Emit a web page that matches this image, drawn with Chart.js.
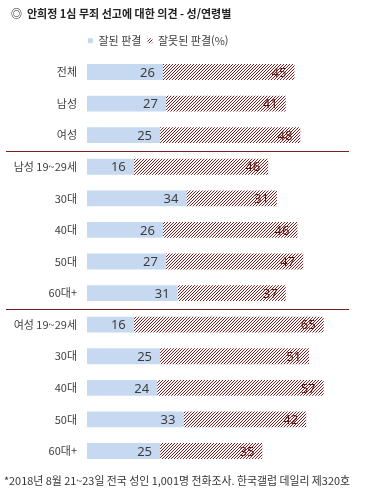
<!DOCTYPE html>
<html lang="ko">
<head>
<meta charset="utf-8">
<title>안희정 1심 무죄 선고에 대한 의견 - 성/연령별</title>
<script src="https://cdn.jsdelivr.net/npm/chart.js@4.4.1/dist/chart.umd.min.js"></script>
<style>
  html, body { margin: 0; padding: 0; background: #fff; }
  #chart { display: block; }
</style>
</head>
<body>
<canvas id="chart" width="370" height="494"></canvas>
<script>
// ---------- DATA ----------
const categories = ["전체", "남성", "여성", "남성 19~29세", "30대", "40대", "50대", "60대+", "여성 19~29세", "30대", "40대", "50대", "60대+"];
const goodVerdict = [26, 27, 25, 16, 34, 26, 27, 31, 16, 25, 24, 33, 25];
const badVerdict  = [45, 41, 48, 46, 31, 46, 47, 37, 65, 51, 57, 42, 35];
const seriesNames = ["잘된 판결", "잘못된 판결(%)"];
const groupBreaks = [2, 7]; // line drawn below these rows

const titleText = "◎  안희정 1심 무죄 선고에 대한 의견 - 성/연령별";
const noteText  = "*2018년 8월 21~23일 전국 성인 1,001명 전화조사. 한국갤럽 데일리 제320호";

const KR_FONT = "'Noto Sans CJK KR', 'Noto Sans', sans-serif";
const BLUE    = "#c6d9f0";
const DARKRED = "#7d1f1f";

// diagonal hatch used for the second series
function makeHatch() {
  const c = document.createElement("canvas");
  c.width = 3; c.height = 3;
  const g = c.getContext("2d");
  g.fillStyle = "#fff";
  g.fillRect(0, 0, 3, 3);
  g.fillStyle = DARKRED;
  for (let i = 0; i < 3; i++) g.fillRect(i, 2 - i, 1, 1);
  return g.createPattern(c, "repeat");
}

// ---------- PLUGINS ----------
// value inside the end of every bar
const valueLabels = {
  id: "valueLabels",
  afterDatasetsDraw(chart) {
    const ctx = chart.ctx;
    ctx.save();
    ctx.font = "13px 'Noto Sans', sans-serif";
    ctx.textAlign = "right";
    ctx.textBaseline = "middle";
    chart.data.datasets.forEach((ds, di) => {
      ctx.fillStyle = di === 0 ? "#3c3c3c" : "#5a1414";
      chart.getDatasetMeta(di).data.forEach((bar, i) => {
        ctx.fillText(ds.data[i], bar.x - 8, bar.y + 1);
      });
    });
    ctx.restore();
  }
};

// dark red rules between the groups
const groupLines = {
  id: "groupLines",
  afterDraw(chart) {
    const y = chart.scales.y;
    const ctx = chart.ctx;
    ctx.save();
    ctx.strokeStyle = DARKRED;
    ctx.lineWidth = 1;
    groupBreaks.forEach((idx) => {
      const py = Math.round((y.getPixelForValue(idx) + y.getPixelForValue(idx + 1)) / 2) + 0.5;
      ctx.beginPath();
      ctx.moveTo(6, py);
      ctx.lineTo(349, py);
      ctx.stroke();
    });
    ctx.restore();
  }
};

// shift title and legend to where the original has them
const nudgeBoxes = {
  id: "nudgeBoxes",
  beforeDraw(chart) {
    if (chart.titleBlock) chart.titleBlock.left = 11;
    if (chart.legend) chart.legend.left = 82;
  }
};

// ---------- CHART ----------
const hatch = makeHatch();

new Chart(document.getElementById("chart").getContext("2d"), {
  type: "bar",
  data: {
    labels: categories,
    datasets: [
      { label: seriesNames[0], data: goodVerdict, backgroundColor: BLUE, borderWidth: 0, barPercentage: 0.5, categoryPercentage: 1 },
      { label: seriesNames[1], data: badVerdict, backgroundColor: hatch, borderWidth: 0, barPercentage: 0.5, categoryPercentage: 1 }
    ]
  },
  options: {
    indexAxis: "y",
    responsive: false,
    animation: false,
    devicePixelRatio: 1,
    layout: { padding: { left: 4, right: 20, top: 0, bottom: 0 } },
    scales: {
      x: { stacked: true, min: 0, max: 90, display: false },
      y: {
        stacked: true,
        grid: { display: false, drawTicks: false },
        border: { display: false },
        ticks: { color: "#404040", font: { family: KR_FONT, size: 11 }, padding: 10, autoSkip: false },
        afterFit: (s) => { s.width = 83; }
      }
    },
    plugins: {
      title: {
        display: true, text: titleText, align: "start", color: "#222",
        font: { family: KR_FONT, size: 11, weight: "bold", lineHeight: 1.2 },
        padding: { top: 7, bottom: 9 }
      },
      legend: {
        display: true, position: "top", align: "start",
        labels: { boxWidth: 5, boxHeight: 5, padding: 6, color: "#404040", font: { family: KR_FONT, size: 11 } }
      },
      subtitle: {
        display: true, position: "bottom", text: noteText, align: "start", color: "#333",
        font: { family: KR_FONT, size: 11, lineHeight: 1.2 },
        padding: { top: 7, bottom: 7 }
      },
      tooltip: { enabled: false }
    }
  },
  plugins: [valueLabels, groupLines, nudgeBoxes]
});
</script>
</body>
</html>
